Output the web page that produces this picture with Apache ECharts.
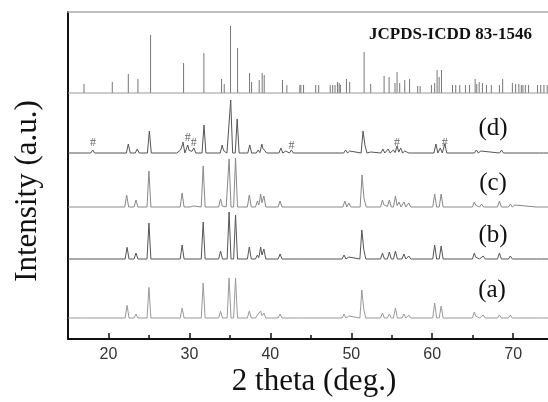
<!DOCTYPE html>
<html><head><meta charset="utf-8">
<script src="https://cdn.jsdelivr.net/npm/echarts@6/dist/echarts.min.js"></script>
<style>html,body{margin:0;padding:0;background:#fff}#c{width:548px;height:402px}</style>
</head><body><div id="c"></div>
<script>
// ---------- data ----------
const xMajorTicks = [20, 30, 40, 50, 60, 70];
const xMinorTicks = [25, 35, 45, 55, 65];
const refName = 'JCPDS-ICDD 83-1546';
const sampleNames = ['(a)', '(b)', '(c)', '(d)'];
const xTitle = '2 theta (deg.)';
const yTitle = 'Intensity (a.u.)';

// reference stick pattern: [2theta, relative intensity]
const refSticks = [
  [16.98,9],[20.47,11],[22.45,19],[23.64,14],[25.2,58],[29.28,30],[31.79,40],[33.97,14],[34.3,9],
  [35.08,67],[35.95,45],[37.43,20],[37.68,11],[38.62,13],[38.99,20],[39.24,18],[41.5,13],[42.04,8],
  [43.64,8],[43.77,8],[44.1,8],[45.6,8],[45.97,8],[47.4,8],[47.7,8],[47.99,8],[48.3,11],[48.5,10],
  [48.65,8],[49.4,14],[49.8,11],[51.58,41],[52.4,9],[54.05,17],[54.67,16],[55.4,10],[55.65,21],
  [55.98,10],[56.6,13],[57.2,14],[58.2,7],[58.5,7],[59.9,8],[60.3,10],[60.6,23],[60.85,16],[61.14,23],
  [62.5,8],[62.9,8],[63.4,8],[64.1,8],[64.6,8],[65.3,14],[65.5,9],[65.8,11],[66.2,10],[66.7,8],
  [67.3,8],[68.3,8],[68.7,14],[69.9,10],[70.3,9],[70.7,9],[71.0,8],[71.2,8],[71.5,8],[71.9,8],
  [73.0,8],[73.4,8],[73.8,8],[74.2,8]
];

// measured peaks of each pattern: [2theta, peak height]
const peaksA = [
  [16.9,2],[22.3,12.7],[23.4,4],[25.0,30.6],[29.1,10],[31.7,35],[33.85,6.7],[34.9,40],[35.7,40],
  [37.4,7],[38.4,3],[38.8,7],[39.2,5],[41.2,4],[43.6,1],[49.1,4],[49.7,2],[51.3,28],[51.55,9],
  [53.85,5],[54.7,4],[55.45,10],[56.5,4],[57.1,3],[60.3,15],[61.1,12],[63.8,1],[65.2,6],[65.6,4],
  [66.3,3],[68.3,3],[69.65,3],[70.4,1.5],[73.1,2]
];
const peaksB = [
  [16.9,1.3],[22.3,11.7],[23.4,6],[25.0,36],[29.1,14],[31.7,37],[33.85,8],[34.9,47],[35.7,44],
  [37.4,12],[38.4,4],[38.8,12],[39.2,10],[41.2,5],[43.6,1],[49.1,4],[49.7,2],[51.3,29],[51.55,10],
  [53.85,6],[54.7,7],[55.45,8],[56.5,5],[57.1,3],[60.3,14],[61.1,13],[63.8,1],[65.2,6],[65.6,3],
  [66.3,3],[68.3,6],[69.65,3],[73.1,2]
];
const peaksC = [
  [16.9,2],[18.05,1],[22.25,12],[23.4,7],[25.0,36],[29.1,14],[29.85,2],[30.5,1],[31.7,41],[33.85,8],
  [34.3,2],[34.9,48],[35.7,49],[37.4,12],[38.4,6],[38.8,13],[39.2,11],[41.2,6],[42.7,1],[43.6,1],
  [49.2,6],[49.7,4],[51.33,32],[51.6,10],[53.85,7],[54.25,4],[54.7,7],[55.45,11],[55.9,5],[56.5,5],
  [57.1,4],[60.3,13],[61.1,13],[63.8,1],[65.2,5],[65.6,3],[66.1,3],[68.3,6],[69.65,3],[70.2,2],[73.1,2]
];
const peaksD = [
  [17.0,2],[18.05,3],[22.45,9],[23.55,4],[25.05,22],[27.1,1],[28.2,1],[28.9,3],[29.2,11],[29.8,8],
  [30.2,3],[30.55,5],[31.8,28],[34.05,8],[34.4,3],[35.1,53],[35.9,34],[36.7,2],[37.45,8],[38.5,3],
  [38.95,9],[39.3,6],[41.3,5],[41.9,2],[42.6,3],[49.3,3],[49.8,2],[51.45,22],[51.7,8],[52.4,1],
  [53.9,4],[54.55,4],[55.2,3],[55.65,7],[56.1,5],[56.6,2],[57.35,2],[60.45,9],[61.0,5],[61.55,9],
  [65.45,3],[66.0,2],[68.55,3],[69.97,2],[73.5,2]
];
// impurity markers (#) on pattern (d): [2theta, height above baseline]
const hashMarks = [[18.1,10],[29.8,15],[30.55,10],[42.6,7],[55.65,10],[61.55,10]];

// ---------- layout constants (stack offsets, axis range) ----------
const X_MIN = 15, X_MAX = 74.3, Y_MAX = 327;
const BASE = { a: 21, b: 80, c: 132, d: 186, ref: 246 };
const HALF_W = 0.24;

function patternLine(peaks, base) {
  const xs = [X_MIN, X_MAX];
  peaks.forEach(p => { xs.push(p[0] - HALF_W, p[0], p[0] + HALF_W); });
  const uniq = Array.from(new Set(xs.map(v => Math.round(v * 1000) / 1000)))
    .filter(v => v >= X_MIN && v <= X_MAX).sort((a, b) => a - b);
  return uniq.map(x => {
    let v = 0;
    peaks.forEach(p => {
      const d = Math.abs(x - p[0]);
      if (d < HALF_W) v = Math.max(v, p[1] * (1 - d / HALF_W));
    });
    return [x, base + v];
  });
}

const SERIF = '"Liberation Serif", "Times New Roman", serif';
const chart = echarts.init(document.getElementById('c'), null, { renderer: 'canvas' });

function lineSeries(data, color) {
  return { type: 'line', data: data, showSymbol: false, symbol: 'none', silent: true,
    lineStyle: { color: color, width: 1 }, animation: false, z: 3 };
}

function label(text, x, y, font) {
  return { type: 'text', x: x, y: y, style: { text: text, font: font, fill: '#111',
    textAlign: 'center', align: 'center', textVerticalAlign: 'middle', verticalAlign: 'middle' } };
}

chart.setOption({
  animation: false,
  backgroundColor: '#fff',
  grid: { left: 68, right: 0, top: 12, bottom: 63 },
  xAxis: [
    { type: 'value', min: X_MIN, max: X_MAX, position: 'bottom',
      axisLine: { lineStyle: { color: '#111', width: 2 } },
      axisTick: { inside: true, length: 6, customValues: xMajorTicks, lineStyle: { color: '#111', width: 1.5 } },
      axisLabel: { customValues: xMajorTicks, fontFamily: '"Liberation Sans", Arial, sans-serif', fontSize: 16, color: '#333', margin: 8 },
      splitLine: { show: false } },
    { type: 'value', min: X_MIN, max: X_MAX, position: 'bottom',
      axisLine: { show: false },
      axisTick: { inside: true, length: 4, customValues: xMinorTicks, lineStyle: { color: '#111', width: 1.5 } },
      axisLabel: { show: false }, splitLine: { show: false } },
    { type: 'value', min: X_MIN, max: X_MAX, position: 'top',
      axisLine: { lineStyle: { color: '#aaa', width: 1.5 } },
      axisTick: { show: false }, axisLabel: { show: false }, splitLine: { show: false } }
  ],
  yAxis: { type: 'value', min: 0, max: Y_MAX,
    axisLine: { show: true, lineStyle: { color: '#111', width: 2 } },
    axisTick: { show: false }, axisLabel: { show: false }, splitLine: { show: false } },
  series: [
    lineSeries([[X_MIN, BASE.ref], [X_MAX, BASE.ref]], '#999'),
    { type: 'custom', silent: true, animation: false, z: 3,
      data: refSticks,
      renderItem: function (params, api) {
        const x = api.value(0), h = api.value(1);
        const p0 = api.coord([x, BASE.ref]);
        const p1 = api.coord([x, BASE.ref + h]);
        return { type: 'line', shape: { x1: p0[0], y1: p0[1], x2: p1[0], y2: p1[1] },
          style: { stroke: '#777', lineWidth: 1 } };
      } },
    lineSeries(patternLine(peaksD, BASE.d), '#555'),
    lineSeries(patternLine(peaksC, BASE.c), '#888'),
    lineSeries(patternLine(peaksB, BASE.b), '#555'),
    lineSeries(patternLine(peaksA, BASE.a), '#999'),
    { type: 'scatter', silent: true, animation: false, symbolSize: 1,
      itemStyle: { color: 'rgba(0,0,0,0)' },
      data: hashMarks.map(m => [m[0], BASE.d + m[1]]),
      label: { show: true, position: 'inside', formatter: '#', fontFamily: SERIF, fontSize: 12, color: '#444' } }
  ],
  graphic: [
    { type: 'text', x: 369, y: 35, style: { text: refName, font: 'bold 17px ' + SERIF, fill: '#111', textVerticalAlign: 'middle', verticalAlign: 'middle' } },
    label(sampleNames[3], 493, 128, '25px ' + SERIF),
    label(sampleNames[2], 493, 183, '25px ' + SERIF),
    label(sampleNames[1], 493, 235, '25px ' + SERIF),
    label(sampleNames[0], 492, 290, '25px ' + SERIF),
    label(xTitle, 314, 382, '31px ' + SERIF),
    Object.assign(label(yTitle, 28, 191, '31px ' + SERIF), { rotation: Math.PI / 2 })
  ]
});
</script>
</body></html>
